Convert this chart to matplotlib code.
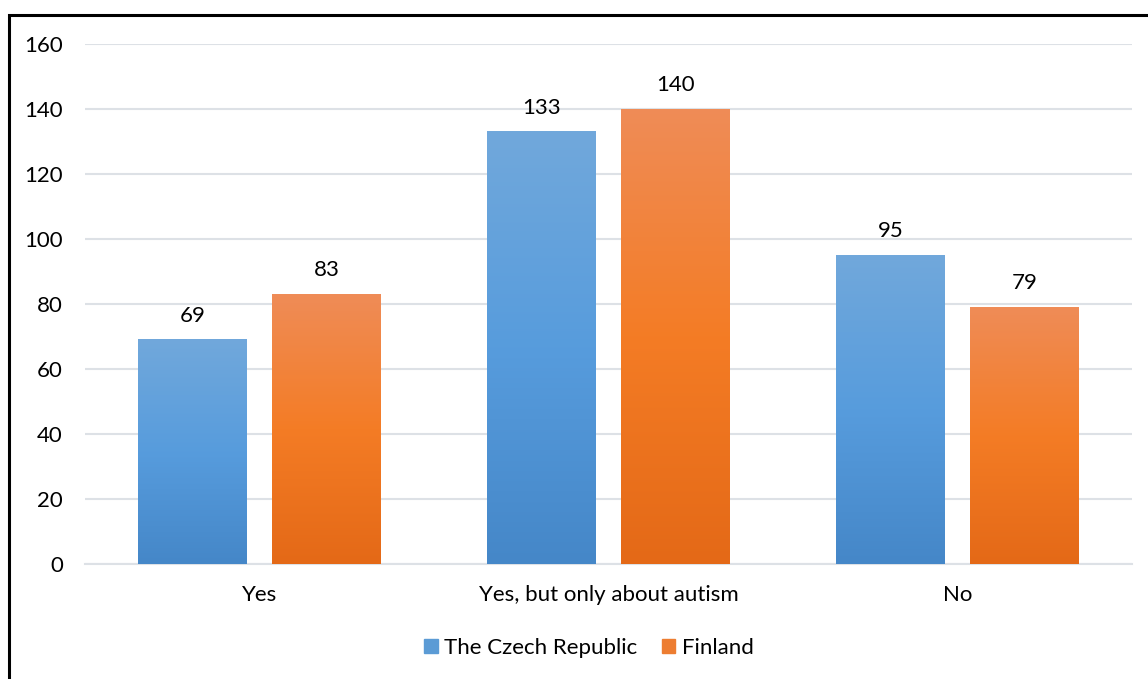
import numpy as np
import matplotlib.pyplot as plt
from matplotlib.colors import LinearSegmentedColormap
from matplotlib.patches import Rectangle

categories = ["Yes", "Yes, but only about autism", "No"]
czech = [69, 133, 95]
finland = [83, 140, 79]
series_names = ["The Czech Republic", "Finland"]

plt.rcParams['font.family'] = ['Lato', 'DejaVu Sans']
FS = 16

# gradientes verticais (base -> meio -> topo)
cmap_blue = LinearSegmentedColormap.from_list("b", ["#4587C8", "#579CDD", "#71A8DB"])
cmap_orange = LinearSegmentedColormap.from_list("o", ["#E46917", "#F47C25", "#EF8C57"])

fig = plt.figure(figsize=(11.48, 6.79), dpi=100)
ax = fig.add_axes([85 / 1148, 1 - 564 / 679, 1047 / 1148, 520 / 679])

x = np.arange(len(categories))
w = 0.312
off = 0.192
grad = np.linspace(0, 1, 256).reshape(-1, 1)

for vals, dx, cmap, name in [(czech, -off, cmap_blue, series_names[0]),
                             (finland, off, cmap_orange, series_names[1])]:
    bars = ax.bar(x + dx, vals, w, color="none", edgecolor="none", label=name, zorder=3)
    for b in bars:
        bx, by = b.get_x(), b.get_y()
        ax.imshow(grad, cmap=cmap, origin="lower", aspect="auto",
                  extent=(bx, bx + b.get_width(), by, by + b.get_height()), zorder=3)
    for b, v in zip(bars, vals):
        ax.annotate(str(v), (b.get_x() + b.get_width() / 2, v), xytext=(0, 10),
                    textcoords="offset points", ha="center", va="bottom", fontsize=FS)

ax.set_xlim(-0.5, 2.5)
ax.set_ylim(0, 160)
ax.set_yticks(range(0, 161, 20))
ax.set_xticks(x)
ax.set_xticklabels(categories)
ax.tick_params(length=0, labelsize=FS, colors="black")
ax.tick_params(axis="x", pad=15)
ax.tick_params(axis="y", pad=16)
ax.grid(axis="y", color="#DDE1E6", linewidth=1.5, zorder=0)
ax.set_axisbelow(True)
for s in ["top", "right", "left"]:
    ax.spines[s].set_visible(False)
ax.spines["bottom"].set_color("#DDE1E6")
ax.spines["bottom"].set_linewidth(1.5)

handles = [Rectangle((0, 0), 1, 1, color="#5B9BD5"), Rectangle((0, 0), 1, 1, color="#ED7D31")]
fig.legend(handles, series_names, loc="center", bbox_to_anchor=(589 / 1148, 1 - 648 / 679),
           ncol=2, frameon=False, fontsize=FS, handlelength=0.6, handleheight=0.6,
           handletextpad=0.3, columnspacing=1.1)

# moldura (só topo e esquerda visíveis no recorte)
fig.add_artist(Rectangle((9 / 1148, -0.1), 1.2, 1 - 15 / 679 + 0.1, transform=fig.transFigure,
                         fill=False, edgecolor="black", linewidth=2.2))

fig.savefig("out.png", dpi=100)
